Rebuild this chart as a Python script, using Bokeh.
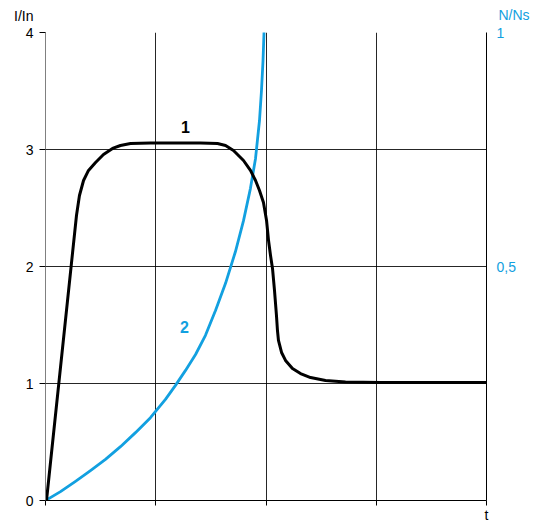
from bokeh.plotting import figure
from bokeh.layouts import column
from bokeh.models import Range1d, LinearAxis, FixedTicker, Label, ColumnDataSource, Plot
from bokeh.core.properties import value
from bokeh.embed import file_html
from bokeh.resources import INLINE

# Curve 1: current ratio I/In over time t
t1 = [0.009, 0.281, 0.308, 0.345, 0.390, 0.454, 0.526, 0.608, 0.680, 0.771,
      0.952, 1.406, 1.560, 1.633, 1.705, 1.796, 1.859, 1.905, 1.941, 1.977,
      2.005, 2.023, 2.041, 2.059, 2.077, 2.095, 2.104, 2.113, 2.141, 2.177,
      2.240, 2.313, 2.404, 2.540, 2.721, 3.039, 4.000]
i1 = [0.0, 2.436, 2.607, 2.735, 2.821, 2.889, 2.957, 3.009, 3.034, 3.051,
      3.056, 3.056, 3.051, 3.034, 2.991, 2.906, 2.821, 2.735, 2.650, 2.547,
      2.393, 2.222, 2.094, 1.983, 1.795, 1.581, 1.453, 1.368, 1.265, 1.197,
      1.128, 1.085, 1.051, 1.026, 1.013, 1.009, 1.009]

# Curve 2: speed ratio N/Ns over time t
t2 = [0.0, 0.136, 0.272, 0.408, 0.544, 0.680, 0.816, 0.952, 1.088, 1.179,
      1.270, 1.361, 1.451, 1.542, 1.633, 1.723, 1.796, 1.859, 1.905, 1.941,
      1.959, 1.973, 1.982]
n2 = [0.0, 0.019, 0.041, 0.064, 0.088, 0.115, 0.145, 0.177, 0.216, 0.246,
      0.278, 0.312, 0.353, 0.406, 0.464, 0.532, 0.598, 0.667, 0.731, 0.812,
      0.876, 0.940, 1.000]

left_ticks = [0, 1, 2, 3, 4]
right_ticks = [0.5, 1]
right_labels = {0.5: "0,5", 1: "1"}
time_ticks = [0, 1, 2, 3, 4]

BLUE = "#12a0e0"
FONT = "Liberation Sans"

# keep each figure's frame where its own borders put it
extra = {"frame_align": False} if "frame_align" in Plot.properties() else {}

# header strip carrying the axis titles above the frame
hdr = figure(width=535, height=24, output_backend="svg", toolbar_location=None,
             x_range=Range1d(0, 535), y_range=Range1d(24, 0),
             min_border=0, x_axis_location=None, y_axis_location=None, **extra)
hdr.outline_line_color = None
hdr.grid.visible = False
hdr.text(x=[33], y=[15], text=["I/In"], text_align="right",
         text_baseline="middle", text_font=value(FONT),
         text_font_size="14px", text_color="black")
hdr.text(x=[498], y=[14], text=["N/Ns"], text_align="left",
         text_baseline="middle", text_font=value(FONT),
         text_font_size="14px", text_color=BLUE)

p = figure(width=535, height=483, output_backend="svg", toolbar_location=None,
           x_range=Range1d(0, 4), y_range=Range1d(0, 4),
           min_border_left=45, min_border_right=49,
           min_border_top=8, min_border_bottom=7,
           y_axis_location=None, x_axis_location=None, **extra)
p.outline_line_color = None
p.background_fill_color = "white"
p.border_fill_color = "white"
p.extra_y_ranges = {"speed": Range1d(0, 1)}

# left axis: I/In
ly = LinearAxis(ticker=FixedTicker(ticks=left_ticks))
ly.axis_line_color = "#808080"
ly.axis_line_width = 1
ly.major_tick_line_color = "black"
ly.major_tick_out = 6
ly.major_tick_in = 0
ly.minor_tick_line_color = None
ly.major_label_standoff = 6
ly.major_label_text_font = FONT
ly.major_label_text_font_size = "14px"
ly.major_label_text_color = "black"
p.add_layout(ly, "left")

# bottom axis: time, tick marks only
bx = LinearAxis(ticker=FixedTicker(ticks=[], minor_ticks=time_ticks))
bx.axis_line_color = "black"
bx.major_tick_line_color = None
bx.major_tick_out = 0
bx.major_tick_in = 0
bx.minor_tick_line_color = "black"
bx.minor_tick_out = 5
bx.minor_tick_in = 0
bx.major_label_standoff = 0
p.add_layout(bx, "below")

# right axis: N/Ns
ry = LinearAxis(y_range_name="speed", ticker=FixedTicker(ticks=right_ticks),
                major_label_overrides=right_labels)
ry.axis_line_color = "black"
ry.major_tick_line_color = None
ry.major_tick_out = 0
ry.major_tick_in = 0
ry.minor_tick_line_color = None
ry.major_label_standoff = 10
ry.major_label_text_font = FONT
ry.major_label_text_font_size = "14px"
ry.major_label_text_color = BLUE
p.add_layout(ry, "right")

# grid lines
p.xgrid.ticker = FixedTicker(ticks=[1, 2, 3, 4])
p.ygrid.ticker = FixedTicker(ticks=[1, 2, 3, 4])
for g in (p.xgrid, p.ygrid):
    g.grid_line_color = "black"
    g.grid_line_width = 1
    g.grid_line_alpha = 0.85

src1 = ColumnDataSource(data=dict(t=t1, v=i1))
src2 = ColumnDataSource(data=dict(t=t2, v=n2))
p.line("t", "v", source=src2, y_range_name="speed", line_color=BLUE,
       line_width=2.8, line_join="round", line_cap="round")
p.line("t", "v", source=src1, line_color="black", line_width=3,
       line_join="round", line_cap="round")

# curve numbers
p.add_layout(Label(x=1.27, y=3.19, text="1", text_color="black",
                   text_align="center", text_baseline="middle",
                   text_font=FONT, text_font_size="16px",
                   text_font_style="bold"))
p.add_layout(Label(x=1.26, y=1.487, text="2", text_color=BLUE,
                   text_align="center", text_baseline="middle",
                   text_font=FONT, text_font_size="16px",
                   text_font_style="bold"))

# footer strip with the time-axis symbol
ftr = figure(width=535, height=15, output_backend="svg", toolbar_location=None,
             x_range=Range1d(0, 535), y_range=Range1d(15, 0),
             min_border=0, x_axis_location=None, y_axis_location=None, **extra)
ftr.outline_line_color = None
ftr.grid.visible = False
ftr.text(x=[486], y=[7], text=["t"], text_align="center",
         text_baseline="middle", text_font=value(FONT),
         text_font_size="14px", text_color="black")

open("out.html", "w").write(file_html(column(hdr, p, ftr), INLINE))
